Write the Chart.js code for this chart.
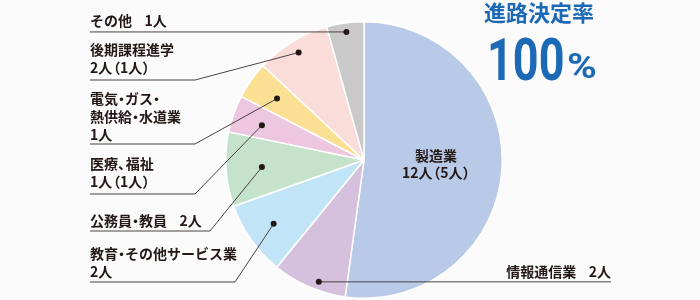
<!DOCTYPE html>
<html lang="ja">
<head>
<meta charset="utf-8">
<script src="https://cdn.jsdelivr.net/npm/chart.js@4/dist/chart.umd.min.js"></script>
<style>
  html, body { margin: 0; padding: 0; background: #fbfbfb; }
  #wrap { width: 700px; height: 300px; position: relative; }
</style>
</head>
<body>
<div id="wrap"><canvas id="c" width="700" height="300"></canvas></div>
<script>
// 進路の内訳（人数）
const categories = ['製造業', '情報通信業', '教育・その他サービス業', '公務員・教員', '医療、福祉', '電気・ガス・熱供給・水道業', '後期課程進学', 'その他'];
const counts = [12, 2, 2, 2, 1, 1, 2, 1];
const subCounts = [5, null, null, null, 1, null, 1, null];   // （ ）内の人数
const sliceColors = ['#b9cae8', '#d5c0de', '#c2e4f7', '#c5e3cb', '#edc6e0', '#fbdf92', '#fadcd8', '#c9c9c9'];
const headline = '進路決定率';
const rateValue = 100;

const FONT = '"Noto Sans CJK JP", "Noto Sans", sans-serif';
const INK = '#231815';

function countText(i) {
  return counts[i] + '人' + (subCounts[i] != null ? '（' + subCounts[i] + '人）' : '');
}

// 約物を詰めて描く（・、（）を半角幅で組む）
const NARROW = {
  '・': { shift: -0.25, adv: 0.5 },
  '、': { shift: 0, adv: 0.55 },
  '（': { shift: -0.42, adv: 0.55 },
  '）': { shift: 0, adv: 0.55 },
  '　': { shift: 0, adv: 0.9 }
};
function drawSet(ctx, str, x, y, align, size) {
  const parts = [];
  let total = 0;
  for (const ch of str) {
    const n = NARROW[ch];
    const adv = n ? n.adv * size : ctx.measureText(ch).width;
    parts.push({ ch, shift: n ? n.shift * size : 0, adv });
    total += adv;
  }
  let cx = align === 'right' ? x - total : align === 'center' ? x - total / 2 : x;
  ctx.save();
  ctx.textAlign = 'left';
  parts.forEach(p => {
    if (p.ch !== '　') ctx.fillText(p.ch, cx + p.shift, y);
    cx += p.adv;
  });
  ctx.restore();
}

// 引き出し線付きラベルの配置（テキスト行・線の折れ点・スライス上の点の位置）
const callouts = [
  { i: 7, lines: [categories[7] + '　' + countText(7)], ys: [21], lineY: null, elbowX: null, r: 0.935, t: 0.5 },
  { i: 6, lines: [categories[6], countText(6)], ys: [50, 67.5], lineY: 80, elbowX: 195, r: 0.91, t: 0.5 },
  { i: 5, lines: ['電気・ガス・', '熱供給・水道業', countText(5)], ys: [99, 117, 134.5], lineY: 144, elbowX: 195, r: 0.77, t: 0.5 },
  { i: 4, lines: [categories[4], countText(4)], ys: [164, 181.5], lineY: 194, elbowX: 195, r: 0.78, t: 0.45 },
  { i: 3, lines: [categories[3] + '　' + countText(3)], ys: [221], lineY: 231, elbowX: 210, r: 0.74, t: 0.5 },
  { i: 2, lines: [categories[2], countText(2)], ys: [253.5, 271.5], lineY: 282, elbowX: 235, r: 0.80, t: 0.5 },
];

const calloutPlugin = {
  id: 'callouts',
  afterDatasetsDraw(chart) {
    const ctx = chart.ctx;
    const arcs = chart.getDatasetMeta(0).data;
    const dotAt = (idx, rf, t) => {
      const a = arcs[idx];
      const p = a.getProps(['x', 'y', 'startAngle', 'endAngle', 'outerRadius'], true);
      const ang = p.startAngle + (p.endAngle - p.startAngle) * t;
      const rr = p.outerRadius * rf;
      return { x: p.x + Math.cos(ang) * rr, y: p.y + Math.sin(ang) * rr };
    };
    const size = 14;
    ctx.save();
    ctx.strokeStyle = '#4a4243';
    ctx.lineWidth = 1;
    ctx.fillStyle = INK;
    ctx.font = 'bold ' + size + 'px ' + FONT;
    ctx.textBaseline = 'middle';
    const leftX = 90;

    callouts.forEach(c => {
      const d = dotAt(c.i, c.r, c.t);
      c.lines.forEach((s, k) => drawSet(ctx, s, leftX, c.ys[k], 'left', size));
      ctx.beginPath();
      if (c.lineY == null) {
        ctx.moveTo(leftX, d.y);
        ctx.lineTo(d.x, d.y);
      } else {
        ctx.moveTo(leftX, c.lineY);
        ctx.lineTo(c.elbowX, c.lineY);
        ctx.lineTo(d.x, d.y);
      }
      ctx.stroke();
      ctx.beginPath();
      ctx.arc(d.x, d.y, 3, 0, Math.PI * 2);
      ctx.fill();
    });

    // 情報通信業：右側へ水平に引き出す
    const d1 = dotAt(1, 0.94, 0.4);
    const rightX = 611;
    ctx.beginPath();
    ctx.moveTo(d1.x, d1.y);
    ctx.lineTo(rightX, d1.y);
    ctx.stroke();
    ctx.beginPath();
    ctx.arc(d1.x, d1.y, 3, 0, Math.PI * 2);
    ctx.fill();
    drawSet(ctx, categories[1] + '　' + countText(1), rightX, 271.5, 'right', size);

    // 製造業：スライス内にラベル
    drawSet(ctx, categories[0], 436, 156, 'center', size);
    drawSet(ctx, countText(0), 436, 173, 'center', size);

    // 見出し
    ctx.fillStyle = '#1c69b5';
    ctx.textAlign = 'left';
    ctx.textBaseline = 'alphabetic';
    ctx.font = 'bold 22px ' + FONT;
    ctx.fillText(headline, 484, 21);
    ctx.save();
    ctx.translate(487, 80);
    ctx.scale(0.75, 1);
    ctx.font = 'bold 60px Roboto, "Liberation Sans", sans-serif';
    ctx.fillText(String(rateValue), 0, 0);
    ctx.restore();
    ctx.save();
    ctx.translate(567, 78);
    ctx.scale(1.15, 1);
    ctx.font = 'bold 35px Roboto, "Liberation Sans", sans-serif';
    ctx.fillText('%', 0, 0);
    ctx.restore();
    ctx.restore();
  }
};

new Chart(document.getElementById('c'), {
  type: 'pie',
  data: {
    labels: categories,
    datasets: [{
      data: counts,
      backgroundColor: sliceColors,
      borderColor: '#ffffff',
      borderWidth: 1.5,
      hoverOffset: 0
    }]
  },
  options: {
    responsive: false,
    animation: false,
    events: [],
    layout: { padding: { left: 225, right: 197, top: 21, bottom: 1 } },
    plugins: { legend: { display: false }, tooltip: { enabled: false } }
  },
  plugins: [calloutPlugin]
});
</script>
</body>
</html>
